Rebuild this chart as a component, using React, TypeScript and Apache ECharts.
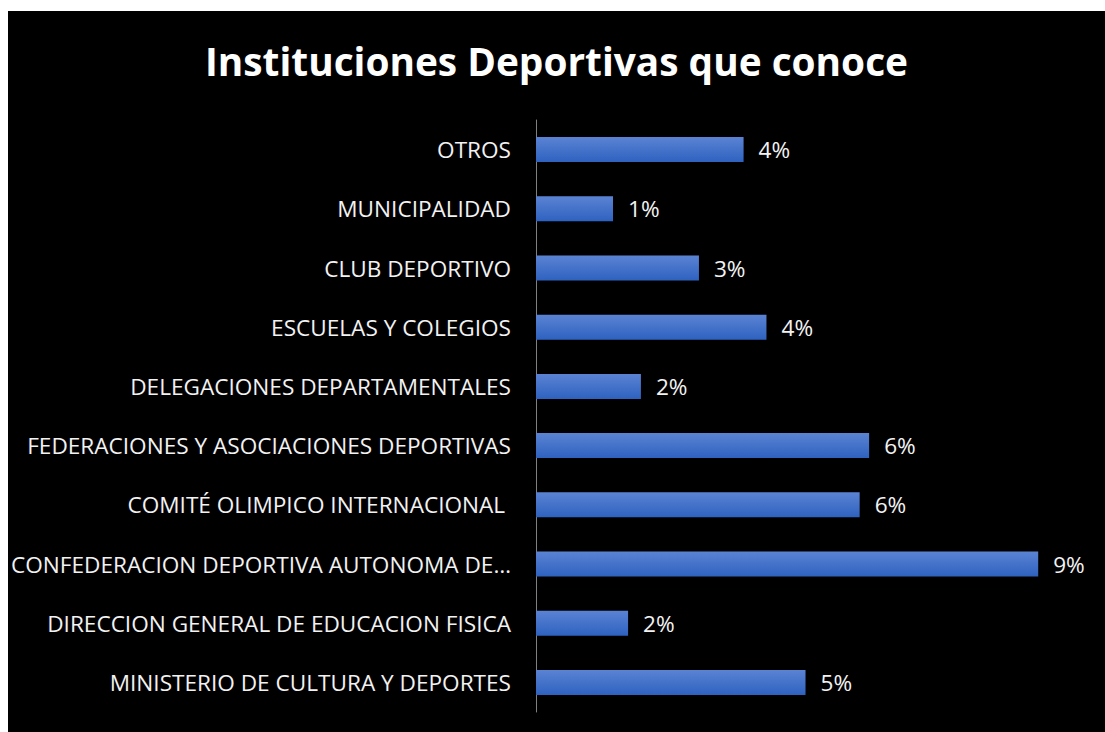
import React, { useEffect, useRef } from "react";
import * as echarts from "echarts";

const titleText = "Instituciones Deportivas que conoce";
const categories = [
  "OTROS",
  "MUNICIPALIDAD",
  "CLUB DEPORTIVO",
  "ESCUELAS Y COLEGIOS",
  "DELEGACIONES DEPARTAMENTALES",
  "FEDERACIONES Y ASOCIACIONES DEPORTIVAS",
  "COMITÉ OLIMPICO INTERNACIONAL ",
  "CONFEDERACION DEPORTIVA AUTONOMA DE…",
  "DIRECCION GENERAL DE EDUCACION FISICA",
  "MINISTERIO DE CULTURA Y DEPORTES",
];
const values = [3.72, 1.38, 2.92, 4.13, 1.88, 5.97, 5.8, 9.0, 1.65, 4.83];

const FONT = "'Open Sans', sans-serif";

export default function App() {
  const ref = useRef<HTMLDivElement>(null);
  useEffect(() => {
    if (!ref.current) return;
    const chart = echarts.init(ref.current, undefined, { renderer: "svg" });
    chart.setOption({
      animation: false,
      backgroundColor: "#000000",
      title: {
        text: titleText,
        left: "center",
        top: 25,
        textStyle: { fontSize: 38.8, fontWeight: "bold", color: "#ffffff", fontFamily: FONT },
      },
      grid: { left: 527, right: 11, top: 109, bottom: 20, containLabel: false },
      xAxis: {
        type: "value",
        min: 0,
        max: 10,
        show: false,
      },
      yAxis: {
        type: "category",
        data: categories,
        inverse: true,
        axisLine: { show: true, lineStyle: { color: "#808080", width: 1 } },
        axisTick: { show: false },
        axisLabel: { color: "#f2f2f2", fontSize: 22.6, fontFamily: FONT, margin: 25 },
      },
      series: [
        {
          type: "bar",
          data: values,
          barWidth: 25,
          itemStyle: {
            color: new echarts.graphic.LinearGradient(0, 0, 0, 1, [
              { offset: 0, color: "#5b83d3" },
              { offset: 1, color: "#2e62c0" },
            ]),
          },
          label: {
            show: true,
            position: "right",
            distance: 15,
            color: "#f2f2f2",
            fontSize: 22.6,
            fontFamily: FONT,
            formatter: (p: any) => Math.round(p.value) + "%",
          },
        },
      ],
    });
    return () => chart.dispose();
  }, []);
  return (
    <div
      ref={ref}
      style={{ position: "absolute", left: 8, top: 11, width: 1097, height: 721 }}
    />
  );
}
